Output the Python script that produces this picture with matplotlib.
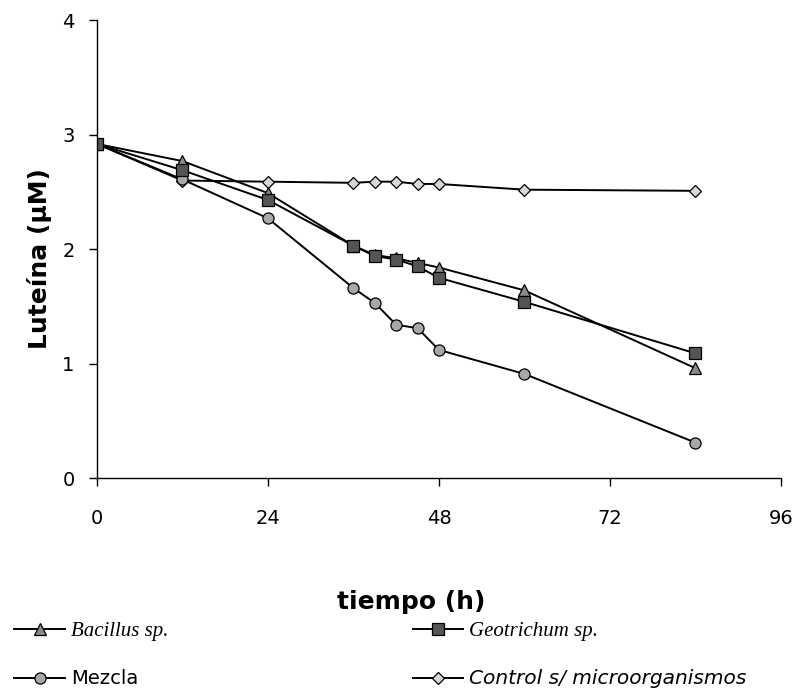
import matplotlib
matplotlib.use("Agg")
import matplotlib.pyplot as plt
from matplotlib.lines import Line2D

# ---- data ----
tiempo = [0, 12, 24, 36, 39, 42, 45, 48, 60, 84]
bacillus = [2.92, 2.77, 2.49, 2.03, 1.95, 1.92, 1.88, 1.84, 1.64, 0.96]
geotrichum = [2.92, 2.69, 2.43, 2.03, 1.94, 1.91, 1.85, 1.75, 1.54, 1.09]
mezcla = [2.92, 2.61, 2.27, 1.66, 1.53, 1.34, 1.31, 1.12, 0.91, 0.31]
control = [2.92, 2.60, 2.59, 2.58, 2.59, 2.59, 2.57, 2.57, 2.52, 2.51]

x_ticks = [0, 24, 48, 72, 96]
y_ticks = [0, 1, 2, 3, 4]

labels = ["Bacillus sp.", "Geotrichum sp.", "Mezcla", "Control s/ microorganismos"]

plt.rcParams['font.family'] = ['DejaVu Sans']

fig = plt.figure(figsize=(8.01, 7.00), dpi=100)
ax = fig.add_axes([0.121, 0.317, 0.854, 0.654])

lw = 1.4
mk = dict(markeredgecolor='black', markeredgewidth=0.9)
h_c, = ax.plot(tiempo, control, '-', color='black', lw=lw, marker='D', markersize=6,
               markerfacecolor='#d8d8d8', **mk)
h_m, = ax.plot(tiempo, mezcla, '-', color='black', lw=lw, marker='o', markersize=8,
               markerfacecolor='#a8a8a8', **mk)
h_b, = ax.plot(tiempo, bacillus, '-', color='black', lw=lw, marker='^', markersize=8.5,
               markerfacecolor='#8a8a8a', **mk)
h_g, = ax.plot(tiempo, geotrichum, '-', color='black', lw=lw, marker='s', markersize=8,
               markerfacecolor='#555555', **mk)

ax.set_xlim(0, 96)
ax.set_ylim(0, 4)
ax.set_xticks(x_ticks)
ax.set_yticks(y_ticks)
ax.set_xticklabels([str(v) for v in x_ticks])
ax.set_yticklabels([str(v) for v in y_ticks])
for s in ['top', 'right']:
    ax.spines[s].set_visible(False)
for s in ['left', 'bottom']:
    ax.spines[s].set_linewidth(1.0)
ax.spines['bottom'].set_bounds(0, 96)
ax.tick_params(axis='both', direction='out', length=6, width=1.0, labelsize=14)
ax.tick_params(axis='x', pad=16)
ax.tick_params(axis='y', pad=10)

ax.set_xlabel("tiempo (h)", fontsize=18, fontweight='bold')
ax.xaxis.set_label_coords(0.46, -0.245)
ax.set_ylabel("Luteína (µM)", fontsize=18, fontweight='bold')
ax.yaxis.set_label_coords(-0.066, 0.48)

# ---- legend (two columns) ----
def proxy(h):
    return Line2D([0], [0], color='black', lw=lw, marker=h.get_marker(),
                  markersize=h.get_markersize(), markerfacecolor=h.get_markerfacecolor(),
                  markeredgecolor='black', markeredgewidth=0.9)

common = dict(loc='upper left', frameon=False, handlelength=2.6, handletextpad=0.3,
              labelspacing=1.45, fontsize=14, borderaxespad=0, borderpad=0)
leg1 = fig.legend([proxy(h_b), proxy(h_m)], [labels[0], labels[2]],
                  bbox_to_anchor=(0.018, 0.111), **common)
leg2 = fig.legend([proxy(h_g), proxy(h_c)], [labels[1], labels[3]],
                  bbox_to_anchor=(0.515, 0.111), **common)
t = leg1.get_texts()
t[0].set_family('Liberation Serif'); t[0].set_style('italic'); t[0].set_fontsize(15)
t[1].set_family('DejaVu Sans'); t[1].set_fontsize(14)
t = leg2.get_texts()
t[0].set_family('Liberation Serif'); t[0].set_style('italic'); t[0].set_fontsize(15)
t[1].set_family('DejaVu Sans'); t[1].set_style('italic'); t[1].set_fontsize(14.5)

fig.savefig("out.png", dpi=100)
